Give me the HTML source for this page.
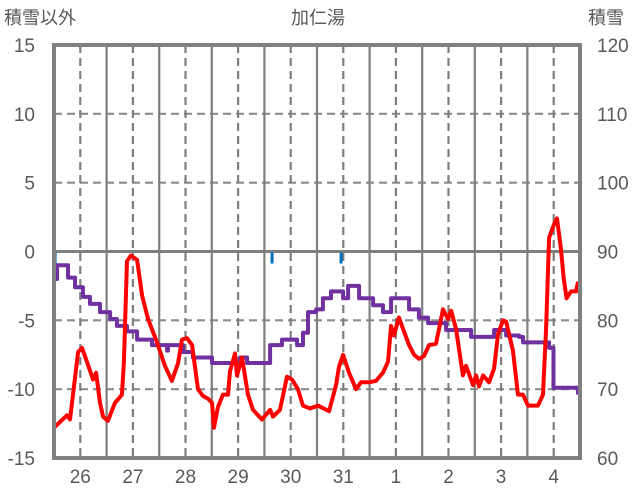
<!DOCTYPE html>
<html><head><meta charset="utf-8"><style>
html,body{margin:0;padding:0;background:#fff;}
svg{display:block;font-family:"Liberation Sans","Noto Sans CJK JP",sans-serif;}
</style></head><body>
<svg id="chart" width="636" height="501" viewBox="0 0 636 501">
<text x="4" y="24" font-size="18" fill="#595959">積雪以外</text>
<text x="318" y="24" font-size="18" fill="#595959" text-anchor="middle">加仁湯</text>
<text x="588" y="24" font-size="18" fill="#595959">積雪</text>
<g id="grid"></g>
<g id="series"></g>
<rect x="54" y="45" width="526" height="413" fill="none" stroke="#808080" stroke-width="4"/>
<g id="labels"></g>
</svg>
<script>
const dayLabels = ["26","27","28","29","30","31","1","2","3","4"];
const leftTicks = [15,10,5,0,-5,-10,-15];
const rightTicks = [120,110,100,90,80,70,60];
const tempHours = [0,5.9,7.3,11,12.8,15,17.8,19.2,21,22.4,24.6,27.8,31,31.9,33.3,35.1,37.9,40.2,42.9,47,50.6,53.8,56.6,58.4,60.7,63,65.7,68,70.3,72.1,73,74.8,77.1,79.4,80.3,82.6,83.5,85.8,88.5,90.8,94.9,98.6,99.9,103.1,106.3,108.6,111.3,113.6,116.8,120.5,125.5,128.7,130,131.9,134.6,137.8,140.1,143.7,146.9,150.1,152.4,153.8,155.1,157.4,159.2,162,164.3,166.5,168.8,171.1,174.3,177.5,179.8,181.2,183.4,186.6,188,191.2,192.6,193.9,195.8,198.5,200.8,202.6,204.9,206.3,209.4,211.7,214,216.3,220.8,223.1,224.5,225.9,228.2,229.5,231.3,232.6,233.9,235.9,238.2,239.1];
const tempValues = [-12.8,-11.9,-12.2,-7.3,-7.0,-8.0,-9.3,-8.8,-11.0,-12.0,-12.3,-11.0,-10.4,-8,-0.7,-0.3,-0.6,-3.2,-4.9,-6.6,-8.3,-9.4,-8.1,-6.4,-6.3,-6.8,-10,-10.5,-10.7,-11.0,-12.8,-11.3,-10.4,-10.4,-8.7,-7.4,-9,-7.7,-10.4,-11.5,-12.2,-11.5,-12,-11.5,-9.1,-9.3,-10,-11.2,-11.4,-11.2,-11.6,-9.7,-8.4,-7.5,-8.8,-10.0,-9.5,-9.5,-9.4,-8.8,-8.0,-5.4,-6.1,-4.8,-5.6,-6.8,-7.5,-7.8,-7.6,-6.8,-6.7,-4.2,-4.9,-4.3,-5.6,-9.0,-8.3,-9.7,-9.0,-9.8,-9.0,-9.5,-8.5,-6.0,-5.0,-5.1,-7.2,-10.4,-10.4,-11.2,-11.2,-10.4,-5.7,1.0,2.0,2.4,0.2,-2.0,-3.4,-2.9,-2.9,-2.2];
const snowHours = [0,1.4,4.1,6.4,9.6,13.2,16.4,21,25.6,28.7,33.3,37.9,44.7,51.6,52,57.5,58.9,63.4,72.1,82.6,84.9,88.1,96.3,98.6,101.8,104,109.1,110.9,113.6,115.9,119.6,122.7,126.4,131.9,134.2,139.2,145.6,150.1,153.8,159.2,162,166.5,170.7,177.5,178.9,183.4,190.3,200.3,200.8,204.9,206.3,212.2,214,223.6,225.9,227.7,227.9,237.3,239.1];
const snowValues = [86,88,88,86.2,84.8,83.4,82.4,81.2,80.2,79.2,78.4,77.2,76.4,75.6,76.4,76.4,75.4,74.6,73.8,73.8,74.6,73.8,73.8,76.4,76.4,77.2,77.2,76.4,78.2,81.2,81.6,83.2,84.2,83.2,85,83.2,82.2,81.2,83.2,83.2,81.6,80.4,79.6,79.6,78.6,78.6,77.6,77.6,78.6,78.6,77.8,77.6,76.8,76.8,76,76,70.2,70.2,69.2];
const precipHours = [0.5,99.5,131];
const precipValues = [0.8,0.8,0.8];

const X0=54,X1=580,Y0=45,Y1=458;
const xH = h => X0 + h*(X1-X0)/240;
const yL = v => Y1 - (v+15)*(Y1-Y0)/30;
const yR = v => Y1 - (v-60)*(Y1-Y0)/60;
const NS="http://www.w3.org/2000/svg";
function mk(tag,attrs,parent){const e=document.createElementNS(NS,tag);for(const k in attrs)e.setAttribute(k,attrs[k]);parent.appendChild(e);return e;}
const grid=document.getElementById('grid'),series=document.getElementById('series'),labels=document.getElementById('labels');
leftTicks.forEach((t,i)=>{
  const y=yL(t);
  if(t!==15&&t!==-15){
    const l=mk('line',{x1:X0,x2:X1,y1:y,y2:y,stroke:t===0?'#7f7f7f':'#8c8c8c','stroke-width':t===0?3:2.2,'stroke-dasharray':t===0?'none':'8 5'},grid);
    
    
  }
  const tx=mk('text',{x:35,y:y+7,'font-size':19,fill:'#595959','text-anchor':'end'},labels);
  tx.textContent=t;
  
  
  const tr=mk('text',{x:597,y:yR(rightTicks[i])+7,'font-size':19,fill:'#595959'},labels);
  tr.textContent=rightTicks[i];
  
  
});
for(let d=0;d<10;d++){
  const xm=xH(12+24*d);
  const l=mk('line',{x1:xm,x2:xm,y1:Y0,y2:Y1,stroke:'#7f7f7f','stroke-width':2.2,'stroke-dasharray':'8 5'},grid);
  
  
  if(d>0){const xs=xH(24*d);
    const s=mk('line',{x1:xs,x2:xs,y1:Y0,y2:Y1,stroke:'#7f7f7f','stroke-width':2.2},grid);
    
    }
  const tx=mk('text',{x:xm,y:483,'font-size':19,fill:'#595959','text-anchor':'middle'},labels);
  tx.textContent=dayLabels[d];
  
  
}
precipHours.forEach((h,i)=>{
  const r=mk('rect',{x:xH(h)-1.5,y:yL(0)+1,width:3,height:yL(-precipValues[i])-yL(0),fill:'#0070c0'},series);
  
  
});
const snowPts=[];
snowHours.forEach((h,i)=>{
  if(i>0) snowPts.push(xH(h)+','+yR(snowValues[i-1]));
  snowPts.push(xH(h)+','+yR(snowValues[i]));
});
const sp=mk('polyline',{points:snowPts.join(' '),fill:'none',stroke:'#7030a0','stroke-width':4,'stroke-linejoin':'round'},series);


const tp=mk('polyline',{points:tempHours.map((h,i)=>xH(h)+','+yL(tempValues[i])).join(' '),fill:'none',stroke:'#ff0000','stroke-width':4,'stroke-linejoin':'round'},series);


</script>
</body></html>
